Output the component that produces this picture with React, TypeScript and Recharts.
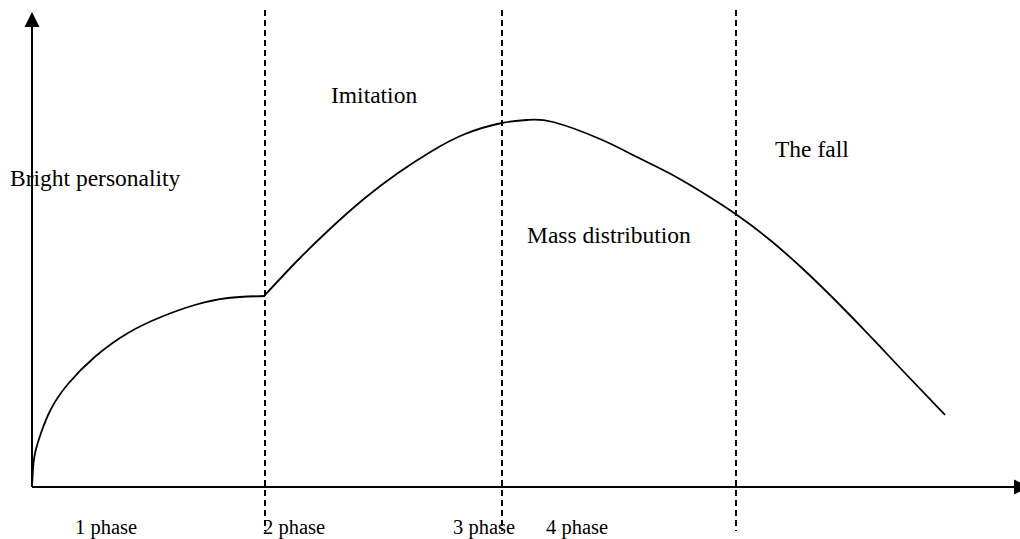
import React from "react";
import {
  ComposedChart,
  Line,
  XAxis,
  YAxis,
  ReferenceLine,
  ReferenceDot,
} from "recharts";

// first phase: the rise of a bright personality
const riseX = [0, 1.5, 4, 9, 19, 36, 62.7, 96, 129, 162.7, 196, 233];
const riseY = [0, 24, 38, 54, 78, 103, 130, 154, 170, 182, 189, 191];

// imitation, mass distribution and the fall
const waveX = [
  233, 266, 300, 333, 366, 400, 433, 470, 495, 521, 568, 601, 635, 668, 705,
  738, 771, 805, 838, 871, 913,
];
const waveY = [
  192, 227, 260, 289, 314, 336, 353, 364, 367, 365, 348, 332, 315, 296, 272,
  247, 218, 185, 151, 116, 72,
];

// phase borders
const phaseBorders = [233, 470, 704];

const zoneLabels = ["Bright personality", "Imitation", "Mass distribution", "The fall"];
const zoneLabelX = [-22, 299, 495, 743];
const zoneLabelY = [301, 384, 244, 330];

const phaseLabels = ["1 phase", "2 phase", "3 phase", "4 phase"];
const phaseLabelX = [43, 231, 421, 514];
const phaseLabelY = -47;

const riseData = riseX.map((x, i) => ({ x, v: riseY[i] }));
const waveData = waveX.map((x, i) => ({ x, v: waveY[i] }));

const font = "'Liberation Serif', 'Times New Roman', serif";

const TextMark = (text: string, size: number) => (props: any) => (
  <text x={props.cx} y={props.cy} fontFamily={font} fontSize={size} fill="#000">
    {text}
  </text>
);

export default function App() {
  return (
    <div style={{ position: "absolute", left: 0, top: 0, background: "#fff" }}>
      <ComposedChart
        width={1020}
        height={539}
        margin={{ top: 0, right: 0, bottom: 0, left: 0 }}
      >
        <XAxis type="number" dataKey="x" domain={[-32, 988]} allowDataOverflow hide />
        <YAxis type="number" domain={[-52, 487]} allowDataOverflow hide />

        {phaseBorders.map((x) => (
          <ReferenceLine
            key={x}
            segment={[
              { x, y: 477 },
              { x, y: -44 },
            ]}
            stroke="#000"
            strokeWidth={2}
            strokeDasharray="6 4"
            ifOverflow="visible"
          />
        ))}

        {/* axes */}
        <ReferenceLine
          segment={[
            { x: 0, y: 0 },
            { x: 0, y: 461 },
          ]}
          stroke="#000"
          strokeWidth={2}
          ifOverflow="visible"
        />
        <ReferenceLine
          segment={[
            { x: 0, y: 0 },
            { x: 983, y: 0 },
          ]}
          stroke="#000"
          strokeWidth={2}
          ifOverflow="visible"
        />
        <ReferenceDot
          x={0}
          y={475}
          ifOverflow="visible"
          shape={(p: any) => (
            <polygon
              points={`${p.cx},${p.cy} ${p.cx - 7.5},${p.cy + 15} ${p.cx + 7.5},${p.cy + 15}`}
              fill="#000"
            />
          )}
        />
        <ReferenceDot
          x={997}
          y={0}
          ifOverflow="visible"
          shape={(p: any) => (
            <polygon
              points={`${p.cx},${p.cy} ${p.cx - 15},${p.cy - 7.5} ${p.cx - 15},${p.cy + 7.5}`}
              fill="#000"
            />
          )}
        />

        <Line
          data={riseData}
          dataKey="v"
          type="natural"
          stroke="#000"
          strokeWidth={1.8}
          dot={false}
          activeDot={false}
          isAnimationActive={false}
        />
        <Line
          data={waveData}
          dataKey="v"
          type="natural"
          stroke="#000"
          strokeWidth={1.8}
          dot={false}
          activeDot={false}
          isAnimationActive={false}
        />

        {zoneLabels.map((t, i) => (
          <ReferenceDot
            key={t}
            x={zoneLabelX[i]}
            y={zoneLabelY[i]}
            ifOverflow="visible"
            shape={TextMark(t, 23.5)}
          />
        ))}
        {phaseLabels.map((t, i) => (
          <ReferenceDot
            key={t}
            x={phaseLabelX[i]}
            y={phaseLabelY}
            ifOverflow="visible"
            shape={TextMark(t, 20.5)}
          />
        ))}
      </ComposedChart>
    </div>
  );
}
